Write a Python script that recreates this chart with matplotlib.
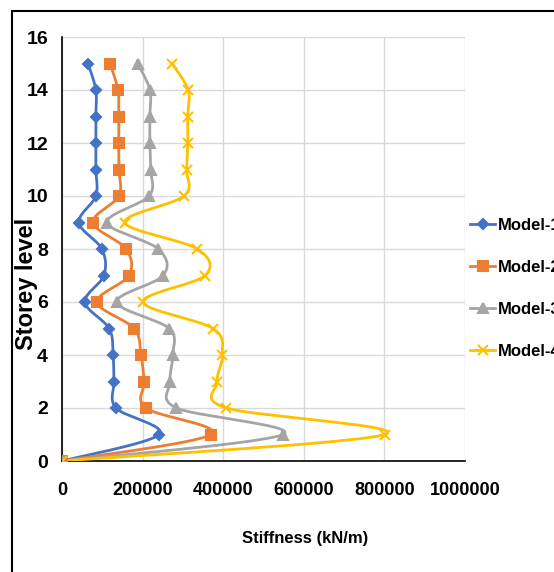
import matplotlib
matplotlib.use("Agg")
import matplotlib.pyplot as plt
from matplotlib.lines import Line2D
import numpy as np

storeys = list(range(16))
model_1 = [0, 241000, 134000, 129000, 127000, 117000, 57000, 104000,
           99000, 42000, 84000, 84000, 84000, 84000, 84000, 64500]
model_2 = [0, 370000, 208000, 204000, 196000, 179000, 87000, 166000,
           159000, 77000, 141000, 141000, 141000, 141000, 139000, 119000]
model_3 = [0, 548000, 284000, 268000, 275000, 266000, 136000, 251000,
           239000, 112000, 216000, 220000, 218000, 218000, 218000, 188000]
model_4 = [0, 801000, 408000, 385000, 398000, 375000, 201000, 355000,
           336000, 156000, 303000, 309000, 312000, 312000, 313000, 273000]
labels = ["Model-1", "Model-2", "Model-3", "Model-4"]
colors = ["#4472C4", "#ED7D31", "#A5A5A5", "#FFC000"]
markers = ["D", "s", "^", "x"]

font = ["Liberation Sans", "DejaVu Sans"]


# Excel-like smoothed line: uniform Catmull-Rom through the points
def smooth(xs, ys, n=20):
    p = np.column_stack([xs, ys]).astype(float)
    p = np.vstack([p[0], p, p[-1]])
    out = []
    t = np.linspace(0, 1, n)[:, None]
    for i in range(1, len(p) - 2):
        p0, p1, p2, p3 = p[i - 1], p[i], p[i + 1], p[i + 2]
        seg = 0.5 * ((2 * p1) + (-p0 + p2) * t
                     + (2 * p0 - 5 * p1 + 4 * p2 - p3) * t ** 2
                     + (-p0 + 3 * p1 - 3 * p2 + p3) * t ** 3)
        out.append(seg if i == 1 else seg[1:])
    out = np.vstack(out)
    return out[:, 0], out[:, 1]


fig = plt.figure(figsize=(5.54, 5.72), dpi=100)
ax = fig.add_axes([62 / 554, 1 - 461 / 572, 403 / 554, 424 / 572])

handles = []
for data, lab, c, m in zip([model_1, model_2, model_3, model_4], labels, colors, markers):
    sx, sy = smooth(data, storeys)
    ax.plot(sx, sy, color=c, lw=2.0, zorder=3)
    ms = 7 if m != "D" else 5.5
    ax.plot(data, storeys, ls="none", marker=m, color=c, ms=ms, mew=1.5, zorder=4)
    handles.append(Line2D([0], [0], color=c, lw=2.0, marker=m, ms=ms, mew=1.5))

ax.set_xlim(0, 1000000)
ax.set_ylim(0, 16)
ax.set_xticks(np.arange(0, 1000001, 200000))
ax.set_yticks(np.arange(0, 17, 2))
ax.set_xticklabels([str(v) for v in range(0, 1000001, 200000)])
ax.grid(True, color="#D9D9D9", lw=1)
ax.set_axisbelow(True)
for s in ["top", "right"]:
    ax.spines[s].set_visible(False)
for s in ["left", "bottom"]:
    ax.spines[s].set_color("black")
    ax.spines[s].set_linewidth(1.2)
ax.tick_params(length=0)
ax.tick_params(axis="x", pad=15)
ax.tick_params(axis="y", pad=10)
for t in ax.get_xticklabels():
    t.set_family(font)
    t.set_fontweight("bold")
    t.set_fontsize(13)
for t in ax.get_yticklabels():
    t.set_family(font)
    t.set_fontweight("bold")
    t.set_fontsize(14)

fig.text(305 / 554, 1 - 538 / 572, "Stiffness (kN/m)", family=font,
         fontweight="bold", fontsize=12, ha="center", va="center")
fig.text(27 / 554, 1 - 284 / 572, "Storey level", family=font,
         fontweight="bold", fontsize=17, rotation=90, ha="center", va="center")

leg = fig.legend(handles, labels, loc="center left", bbox_to_anchor=(470 / 554, 1 - 288 / 572),
                 frameon=False, prop={"family": font, "weight": "bold", "size": 12},
                 handlelength=1.5, handletextpad=0.15, labelspacing=1.62, borderaxespad=0,
                 borderpad=0)

# outer frame (only top and left edges are visible in the reference)
fig.add_artist(plt.Rectangle((12 / 554, -0.1), 1.2, 1 - 11 / 572 + 0.1,
                             transform=fig.transFigure, fill=False, ec="black", lw=1.5))

fig.savefig("out.png", dpi=100)
